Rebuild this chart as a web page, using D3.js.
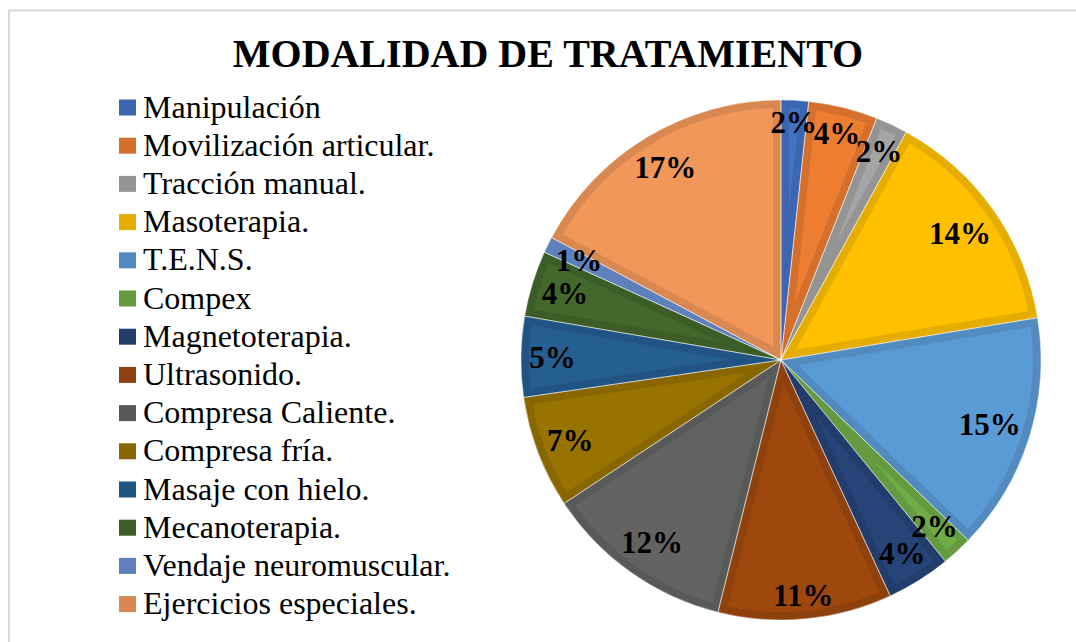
<!DOCTYPE html>
<html lang="es">
<head>
  <meta charset="UTF-8">
  <title>Modalidad de tratamiento</title>
  <script src="https://d3js.org/d3.v7.min.js"></script>
  <style>
    body { margin: 0; background: #fff; }
    svg { display: block; font-family: "Liberation Serif", "Times New Roman", serif; }
  </style>
</head>
<body>
  <svg width="1076" height="642"></svg>
  <script>
    const categories = [
      "Manipulación", "Movilización articular.", "Tracción manual.", "Masoterapia.",
      "T.E.N.S.", "Compex", "Magnetoterapia.", "Ultrasonido.", "Compresa Caliente.",
      "Compresa fría.", "Masaje con hielo.", "Mecanoterapia.", "Vendaje neuromuscular.",
      "Ejercicios especiales."
    ];
    // share of each modality (percent)
    const values = [1.7, 4.3, 2.0, 14.4, 14.8, 1.9, 4.0, 10.8, 11.8, 7.0, 5.0, 4.1, 1.0, 17.2];
    const colors = [
      "#4472C4", "#ED7D31", "#A5A5A5", "#FFC000", "#5B9BD5", "#70AD47", "#264478",
      "#9E480E", "#636363", "#997300", "#255E91", "#43682B", "#698ED0", "#F1975A"
    ];

    const svg = d3.select("svg");
    const cx = 781, cy = 360, R = 260;

    // outer frame (only top and left visible)
    svg.append("rect")
      .attr("x", 9).attr("y", 10.5)
      .attr("width", 1100).attr("height", 700)
      .attr("fill", "none")
      .attr("stroke", "#d9d9d9")
      .attr("stroke-width", 2);

    svg.append("text")
      .attr("x", 548).attr("y", 67)
      .attr("text-anchor", "middle")
      .attr("font-size", 40)
      .attr("font-weight", "bold")
      .text("MODALIDAD DE TRATAMIENTO");

    const color = d3.scaleOrdinal().domain(categories).range(colors);
    const dark = c => d3.color(c).darker(0.3).formatHex();

    const pie = d3.pie().sort(null).value(d => d.value);
    const arc = d3.arc().innerRadius(0).outerRadius(R);
    const data = categories.map((c, i) => ({ name: c, value: values[i] }));
    const total = d3.sum(values);
    const arcs = pie(data);

    const g = svg.append("g").attr("transform", `translate(${cx},${cy})`);
    const defs = svg.append("defs");

    arcs.forEach((d, i) => {
      defs.append("clipPath").attr("id", "clip" + i)
        .append("path").attr("d", arc(d));
    });

    // slice fill with a darker inner border band
    g.selectAll("path.slice")
      .data(arcs)
      .join("path")
      .attr("class", "slice")
      .attr("d", arc)
      .attr("fill", d => color(d.data.name))
      .attr("stroke", d => dark(color(d.data.name)))
      .attr("stroke-width", 16)
      .attr("stroke-linejoin", "miter")
      .attr("clip-path", (d, i) => `url(#clip${i})`);

    g.selectAll("path.sep")
      .data(arcs)
      .join("path")
      .attr("class", "sep")
      .attr("d", arc)
      .attr("fill", "none")
      .attr("stroke", "rgba(255,255,255,0.55)")
      .attr("stroke-width", 0.8);

    // data labels, placed at the inside end of each slice
    const labels = g.selectAll("text.lbl")
      .data(arcs)
      .join("text")
      .attr("class", "lbl")
      .attr("text-anchor", "middle")
      .attr("font-size", 31)
      .attr("font-weight", "bold")
      .attr("fill", "#000")
      .text(d => Math.round(d.data.value / total * 100) + "%");

    labels.each(function(d) {
      const w = this.getComputedTextLength();
      const h = 26;
      const a = (d.startAngle + d.endAngle) / 2;
      const sx = Math.sin(a), sy = -Math.cos(a);
      const half = Math.abs(sx) * w / 2 + Math.abs(sy) * h / 2;
      const r = R - 8 - half;
      d3.select(this)
        .attr("x", sx * r)
        .attr("y", sy * r + 10.5);
    });

    // legend
    const legend = svg.append("g").attr("transform", "translate(119,107.5)");
    const rowH = 38.2;
    const rows = legend.selectAll("g")
      .data(categories)
      .join("g")
      .attr("transform", (d, i) => `translate(0,${i * rowH})`);
    rows.append("rect")
      .attr("x", 0).attr("y", -8)
      .attr("width", 17).attr("height", 16)
      .attr("fill", d => dark(color(d)));
    rows.append("text")
      .attr("x", 24).attr("y", 10)
      .attr("font-size", 32)
      .attr("fill", "#000")
      .text(d => d);
  </script>
</body>
</html>
